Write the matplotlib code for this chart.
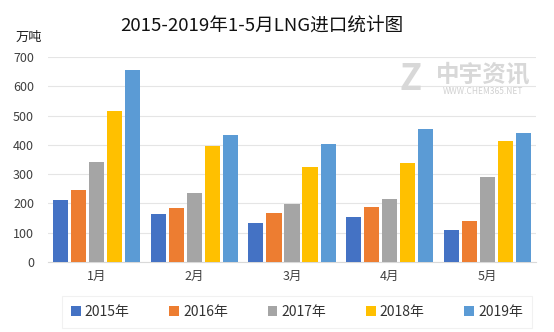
import matplotlib
matplotlib.use("Agg")
import matplotlib.pyplot as plt
import numpy as np

plt.rcParams['font.family'] = ['Noto Sans CJK SC', 'DejaVu Sans']

months = ['1月', '2月', '3月', '4月', '5月']
years = ['2015年', '2016年', '2017年', '2018年', '2019年']
v2015 = [211, 164, 133, 153, 109]
v2016 = [245, 184, 167, 188, 140]
v2017 = [341, 235, 198, 215, 290]
v2018 = [515, 395, 324, 338, 414]
v2019 = [655, 433, 402, 453, 440]
series = [v2015, v2016, v2017, v2018, v2019]
colors = ['#4472C4', '#ED7D31', '#A5A5A5', '#FFC000', '#5B9BD5']

fig = plt.figure(figsize=(5.54, 3.32), dpi=100)
ax = fig.add_axes([48/554, 1-262/332, (536-48)/554, (262-57)/332])

x = np.arange(len(months))
step = 0.185
width = 0.155
handles = []
for i, (vals, c) in enumerate(zip(series, colors)):
    h = ax.bar(x + (i - 2) * step, vals, width=width, color=c, zorder=3)
    handles.append(h)

ax.set_xlim(-0.5, 4.5)
ax.set_ylim(0, 700)
ax.set_yticks(range(0, 701, 100))
ax.yaxis.grid(True, color='#E5E5E5', linewidth=0.8, zorder=0)
ax.set_xticks(x)
ax.set_xticklabels(months)
for s in ['top', 'right', 'left']:
    ax.spines[s].set_visible(False)
ax.spines['bottom'].set_color('#D9D9D9')
ax.tick_params(axis='both', length=0, labelsize=9, colors='#404040')
ax.tick_params(axis='x', pad=6)
ax.tick_params(axis='y', pad=10)

fig.text(262/554, 1-26/332, '2015-2019年1-5月LNG进口统计图', ha='center', va='center',
         fontsize=13.4, color='#111111')
fig.text(29/554, 1-37/332, '万吨', ha='center', va='center', fontsize=9.5, color='#222222')

# watermark
fig.text(483/554, 1-74/332, '中宇资讯', ha='center', va='center', fontsize=17,
         fontweight='bold', color='#D8D8D8', zorder=0)
fig.text(483/554, 1-92/332, 'WWW.CHEM365.NET', ha='center', va='center', fontsize=6,
         color='#D0D0D0', zorder=0)
fig.text(411/554, 1-79/332, 'Z', ha='center', va='center', fontsize=26,
         fontweight='bold', fontstyle='italic', color='#D8D8D8', zorder=0)

leg = fig.legend(handles, years, loc='center', bbox_to_anchor=(297/554, 1-312/332),
                 ncol=5, frameon=True, fontsize=10, handlelength=0.7, handleheight=0.7,
                 handletextpad=0.3, columnspacing=2.85, borderpad=0.35, labelcolor='#333333')
leg.get_frame().set_edgecolor('#EEEEEE')
leg.get_frame().set_linewidth(0.8)
leg.get_frame().set_boxstyle('square')

fig.savefig('out.png', dpi=100)
